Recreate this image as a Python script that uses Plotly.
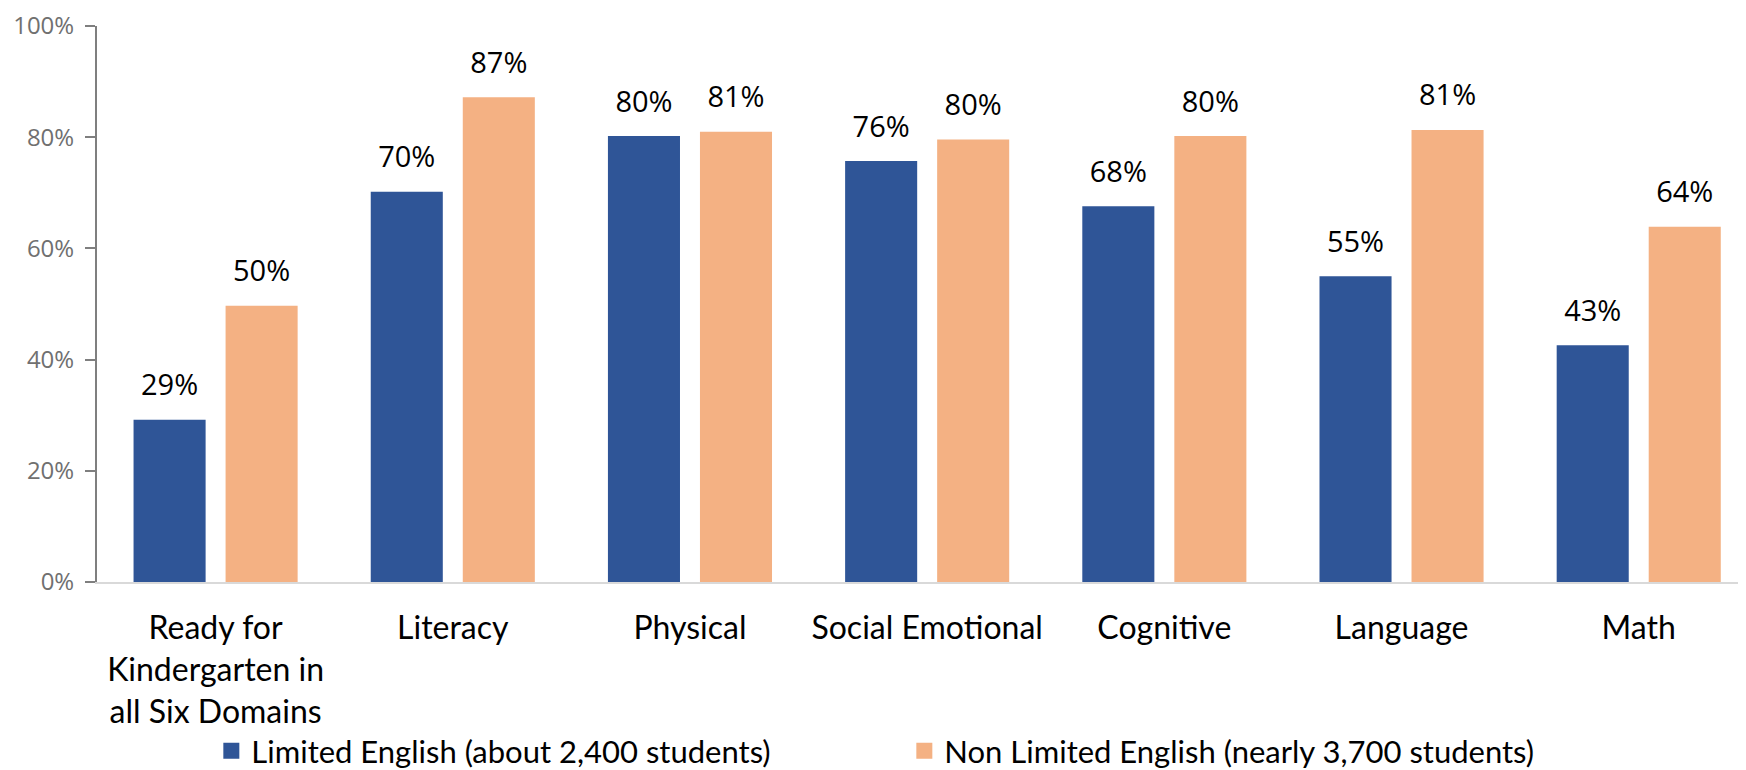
import plotly.graph_objects as go

categories = ["Ready for<br>Kindergarten in<br>all Six Domains", "Literacy", "Physical",
              "Social Emotional", "Cognitive", "Language", "Math"]
limited = [29.2, 70.2, 80.2, 75.7, 67.6, 55.0, 42.6]
non_limited = [49.7, 87.2, 81.0, 79.6, 80.2, 81.3, 63.9]
series_names = ["Limited English (about 2,400 students)", "Non Limited English (nearly 3,700 students)"]
tick_vals = [0, 20, 40, 60, 80, 100]
tick_text = ["0%", "20%", "40%", "60%", "80%", "100%"]

colors = ["#2F5597", "#F4B183"]
series = [limited, non_limited]

fig = go.Figure()
for i, vals in enumerate(series):
    fig.add_trace(go.Bar(x=categories, y=vals, name=series_names[i],
                         marker=dict(color=colors[i], line=dict(width=0)),
                         offsetgroup=str(i), hoverinfo="skip", showlegend=False))
for i, vals in enumerate(series):
    fig.add_trace(go.Scatter(x=categories, y=vals, mode="markers+text",
                             text=[f"{v:.0f}%" for v in vals],
                             textposition="top center",
                             marker=dict(size=26, color="rgba(0,0,0,0)"),
                             textfont=dict(family="Open Sans", size=29, color="#000000"),
                             offsetgroup=str(i), showlegend=False, cliponaxis=False,
                             hoverinfo="skip"))
# legend entries (square swatches)
for i in range(2):
    fig.add_trace(go.Scatter(x=[None], y=[None], mode="markers", name=series_names[i],
                             marker=dict(symbol="square", size=18, color=colors[i],
                                         line=dict(width=0)),
                             showlegend=True, hoverinfo="skip"))

fig.update_layout(
    width=1746, height=770,
    margin=dict(l=89, r=0, t=18, b=196, autoexpand=False),
    plot_bgcolor="white", paper_bgcolor="white",
    barmode="group", bargap=0.224, bargroupgap=0.217,
    scattermode="group", scattergap=0.224,
    showlegend=True,
    legend=dict(orientation="h", x=0.069, xanchor="left", y=-0.003, yanchor="bottom",
                yref="container", entrywidth=648, itemsizing="trace",
                font=dict(family="Lato", size=31, color="#000000"),
                itemclick=False),
    font=dict(family="Lato"),
)
fig.update_xaxes(range=[-0.5, 6.486], showline=True, linecolor="#D9D9D9", linewidth=2,
                 ticks="", tickfont=dict(family="Lato", size=32, color="#000000"),
                 ticklabelstandoff=17, automargin=False,
                 showgrid=False, zeroline=False)
fig.update_yaxes(range=[0, 100], tickvals=tick_vals, ticktext=tick_text,
                 showline=True, linecolor="#7F7F7F", linewidth=2,
                 ticks="outside", ticklen=10, tickcolor="#7F7F7F", tickwidth=2,
                 ticklabelstandoff=6, ticklabeloverflow="allow",
                 tickfont=dict(family="Open Sans", size=24, color="#707070"),
                 automargin=False, showgrid=False, zeroline=False)

fig.write_html("out.html")
